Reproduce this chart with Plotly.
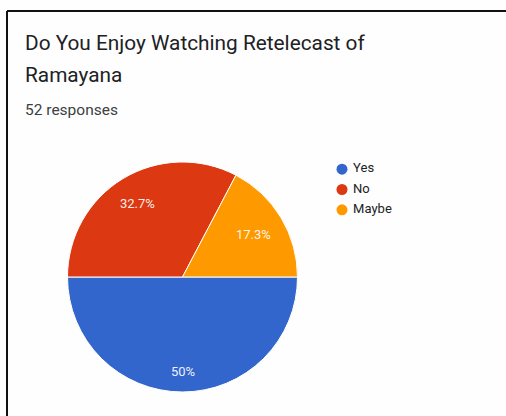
import math
import plotly.graph_objects as go

# Survey answers and counts
labels = ["Yes", "No", "Maybe"]
counts = [26, 17, 9]
colors = ["#3366cc", "#dc3912", "#ff9900"]

title_lines = ["Do You Enjoy Watching Retelecast of", "Ramayana"]
subtitle = "52 responses"

W, H = 506, 416
START_ANGLE = 90          # first slice begins at 3 o'clock, running clockwise
LABEL_FONT = 13


def px_x(v):
    return v / W


def px_y(v):
    return 1 - v / H


# Pie placement (pixel box of the circle)
pie_left, pie_right, pie_top, pie_bottom = 67.5, 297.5, 162, 392
cx = (pie_left + pie_right) / 2
cy = (pie_top + pie_bottom) / 2
R = (pie_right - pie_left) / 2

fig = go.Figure()

fig.add_trace(go.Pie(
    labels=labels,
    values=counts,
    marker=dict(colors=colors, line=dict(color="white", width=1)),
    sort=False,
    direction="clockwise",
    rotation=START_ANGLE,
    textinfo="none",
    domain=dict(x=[px_x(pie_left), px_x(pie_right)],
                y=[px_y(pie_bottom), px_y(pie_top)]),
    showlegend=False,
    hoverinfo="label+percent",
))


def pct_text(v, total):
    s = f"{100 * v / total:.1f}"
    if s.endswith(".0"):
        s = s[:-2]
    return s + "%"


# Percentage labels: placed along each slice's bisector so the text box's
# outer corner sits at a fixed fraction of the radius.
annotations = []
total = sum(counts)
cum = 0
reach = 0.88 * R
for v in counts:
    mid = math.radians(START_ANGLE + 360 * (cum + v / 2) / total)
    cum += v
    ux, uy = math.sin(mid), -math.cos(mid)
    txt = pct_text(v, total)
    hw = 0.55 * LABEL_FONT * len(txt) / 2
    hh = 6
    c = (math.copysign(hw, ux), math.copysign(hh, uy))
    uc = ux * c[0] + uy * c[1]
    r = -uc + math.sqrt(uc * uc - (c[0] ** 2 + c[1] ** 2) + reach ** 2)
    annotations.append(dict(
        text=txt, xref="paper", yref="paper",
        x=px_x(cx + r * ux), y=px_y(cy + r * uy),
        xanchor="center", yanchor="middle", showarrow=False,
        font=dict(family="Roboto", size=LABEL_FONT, color="rgba(255,255,255,0.93)"),
    ))

# Legend: round swatches with their names
fig.add_trace(go.Scatter(
    x=[0.5] * len(labels),
    y=list(range(len(labels))),
    mode="markers+text",
    marker=dict(color=colors, size=11, symbol="circle"),
    text=[" " + s for s in labels],
    textposition="middle right",
    textfont=dict(family="Roboto", size=13, color="#222222"),
    cliponaxis=False,
    showlegend=False,
    hoverinfo="skip",
))

fig.update_xaxes(visible=False, range=[0, 10],
                 domain=[px_x(337), px_x(437)], fixedrange=True)
fig.update_yaxes(visible=False, range=[len(labels) - 0.5, -0.5],
                 domain=[px_y(220), px_y(159)], fixedrange=True)

for i, line in enumerate(title_lines):
    annotations.append(dict(
        text=line, xref="paper", yref="paper",
        x=px_x(23), y=px_y(43 + 32 * i), xanchor="left", yanchor="middle",
        showarrow=False, font=dict(family="Roboto", size=20.8, color="#202124"),
    ))
annotations.append(dict(
    text=subtitle, xref="paper", yref="paper",
    x=px_x(23), y=px_y(110), xanchor="left", yanchor="middle",
    showarrow=False, font=dict(family="Roboto", size=15.5, color="#3c4043"),
))

# Frame along the top and left edges
shapes = [
    dict(type="line", xref="paper", yref="paper",
         x0=px_x(7), x1=1.0, y0=px_y(11), y1=px_y(11),
         line=dict(color="#111111", width=2)),
    dict(type="line", xref="paper", yref="paper",
         x0=px_x(7), x1=px_x(7), y0=px_y(11), y1=0.0,
         line=dict(color="#111111", width=2)),
]

fig.update_layout(
    width=W, height=H,
    margin=dict(l=0, r=0, t=0, b=0),
    paper_bgcolor="#fefefe",
    plot_bgcolor="rgba(0,0,0,0)",
    annotations=annotations,
    shapes=shapes,
    showlegend=False,
)

fig.write_html("out.html")
